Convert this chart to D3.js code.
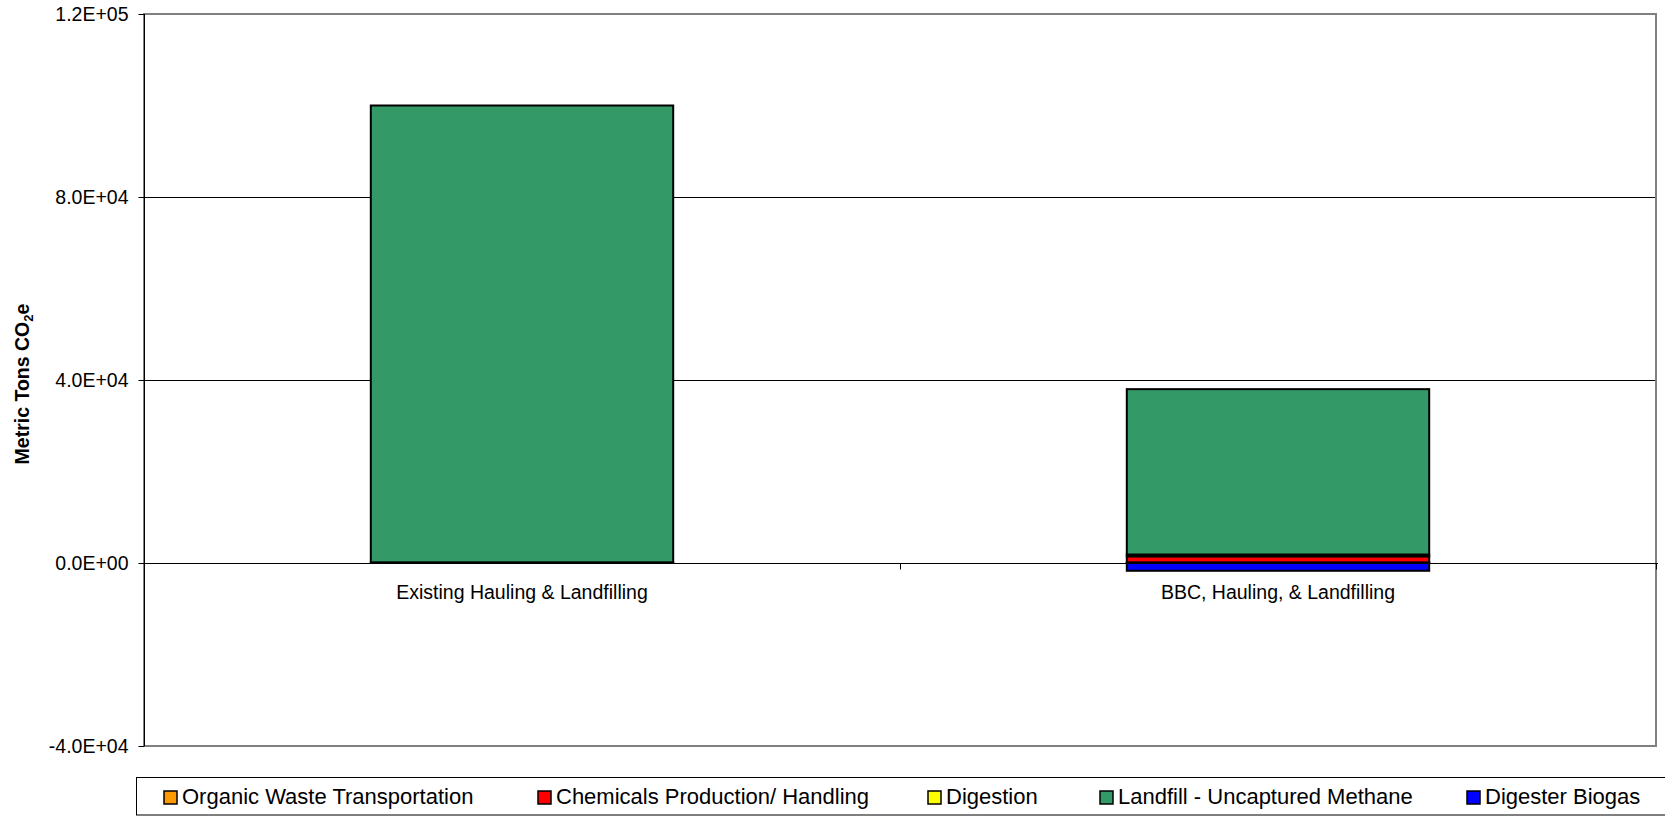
<!DOCTYPE html>
<html>
<head>
<meta charset="utf-8">
<script src="https://cdn.jsdelivr.net/npm/d3@7/dist/d3.min.js"></script>
<style>
  html, body { margin: 0; padding: 0; background: #fff; }
  svg { display: block; font-family: "Liberation Sans", Arial, sans-serif; }
</style>
</head>
<body>
<svg id="chart" width="1665" height="817"></svg>
<script>
// ---- Data ----
const categories = ["Existing Hauling & Landfilling", "BBC, Hauling, & Landfilling"];
const seriesNames = ["Organic Waste Transportation", "Chemicals Production/ Handling", "Digestion", "Landfill - Uncaptured Methane", "Digester Biogas"];
const seriesColors = ["#FF9900", "#FF0000", "#FFFF00", "#339966", "#0000FF"];
const organicTransport = [150, 150];
const chemicals = [0, 1300];
const digestion = [0, 400];
const landfillMethane = [99850, 36150];
const digesterBiogas = [0, -1700];
const yTicks = [-40000, 0, 40000, 80000, 120000];
const yTickLabels = ["-4.0E+04", "0.0E+00", "4.0E+04", "8.0E+04", "1.2E+05"];
const yDomain = [-40000, 120000];

const seriesValues = [organicTransport, chemicals, digestion, landfillMethane, digesterBiogas];
const table = categories.map((c, i) => {
  const row = { category: c };
  seriesNames.forEach((s, j) => { row[s] = seriesValues[j][i]; });
  return row;
});

// ---- Layout ----
const plot = { left: 144, right: 1656, top: 14, bottom: 746 };
const svg = d3.select("#chart");

const x = d3.scaleBand().domain(categories).range([plot.left, plot.right])
  .paddingInner(0.6).paddingOuter(0.3);
const xCat = d3.scaleBand().domain(categories).range([plot.left, plot.right]).padding(0);
const y = d3.scaleLinear().domain(yDomain).range([plot.bottom, plot.top]);

// gridlines
svg.append("g").selectAll("line").data(yTicks.filter(t => t !== 0 && t !== yDomain[0] && t !== yDomain[1]))
  .enter().append("line")
  .attr("x1", plot.left).attr("x2", plot.right)
  .attr("y1", d => Math.round(y(d)) + 0.5).attr("y2", d => Math.round(y(d)) + 0.5)
  .attr("stroke", "#000").attr("stroke-width", 1);

// plot border (gray)
svg.append("rect")
  .attr("x", plot.left).attr("y", plot.top)
  .attr("width", plot.right - plot.left).attr("height", plot.bottom - plot.top)
  .attr("fill", "none").attr("stroke", "#808080").attr("stroke-width", 2);

// zero line (category axis)
const y0 = Math.round(y(0)) + 0.5;
svg.append("line").attr("x1", plot.left).attr("x2", plot.right + 2)
  .attr("y1", y0).attr("y2", y0).attr("stroke", "#000").attr("stroke-width", 1);

// category ticks at band boundaries
const catBounds = categories.map(c => xCat(c)).concat([plot.right]);
svg.append("g").selectAll("line").data(catBounds).enter().append("line")
  .attr("x1", d => Math.round(d) + 0.5).attr("x2", d => Math.round(d) + 0.5)
  .attr("y1", y0).attr("y2", y0 + 6)
  .attr("stroke", "#000").attr("stroke-width", 1);

// stacked bars
const stack = d3.stack().keys(seriesNames).offset(d3.stackOffsetDiverging);
const stacked = stack(table);
const gBars = svg.append("g");
stacked.forEach((layer, j) => {
  gBars.append("g").selectAll("rect")
    .data(layer.filter(d => d[1] !== d[0]))
    .enter().append("rect")
    .attr("x", d => x(d.data.category))
    .attr("width", x.bandwidth())
    .attr("y", d => y(Math.max(d[0], d[1])))
    .attr("height", d => Math.abs(y(d[0]) - y(d[1])))
    .attr("fill", seriesColors[j])
    .attr("stroke", "#000").attr("stroke-width", 2);
});

// y axis
const yAxis = d3.axisLeft(y).tickValues(yTicks)
  .tickFormat((d, i) => yTickLabels[i]).tickSize(6).tickPadding(10);
const gY = svg.append("g").attr("transform", `translate(${plot.left + 0.5},0)`).call(yAxis);
gY.select(".domain").attr("stroke", "#000").attr("d", `M0,${plot.top}V${plot.bottom}`);
gY.selectAll(".tick line").attr("stroke", "#000");
gY.selectAll(".tick text").attr("font-size", "19.5px").attr("fill", "#000")
  .attr("font-family", "Liberation Sans, Arial, sans-serif").attr("dy", "0.35em");

// category labels
svg.append("g").selectAll("text").data(categories).enter().append("text")
  .attr("x", d => x(d) + x.bandwidth() / 2)
  .attr("y", 599)
  .attr("text-anchor", "middle")
  .attr("font-size", "19.5px")
  .attr("fill", "#000")
  .text(d => d);

// y axis title
const title = svg.append("text")
  .attr("transform", `translate(29,${(plot.top + plot.bottom) / 2 + 4}) rotate(-90)`)
  .attr("text-anchor", "middle")
  .attr("font-size", "19.5px").attr("font-weight", "bold").attr("fill", "#000");
title.append("tspan").text("Metric Tons CO");
title.append("tspan").attr("font-size", "13px").attr("dy", 4).text("2");
title.append("tspan").attr("dy", -4).text("e");

// legend
const legendX = [164, 538, 928, 1100, 1467];
svg.append("rect").attr("x", 136.5).attr("y", 777.5).attr("width", 1540).attr("height", 37.5)
  .attr("fill", "#fff").attr("stroke", "#000").attr("stroke-width", 1);
const lg = svg.append("g").selectAll("g").data(seriesNames).enter().append("g")
  .attr("transform", (d, i) => `translate(${legendX[i]},0)`);
lg.append("rect").attr("x", 0).attr("y", 791).attr("width", 13).attr("height", 13)
  .attr("fill", (d, i) => seriesColors[i]).attr("stroke", "#000").attr("stroke-width", 1.5);
lg.append("text").attr("x", 18).attr("y", 804).attr("font-size", "22px").attr("fill", "#000")
  .text(d => d);
</script>
</body>
</html>
